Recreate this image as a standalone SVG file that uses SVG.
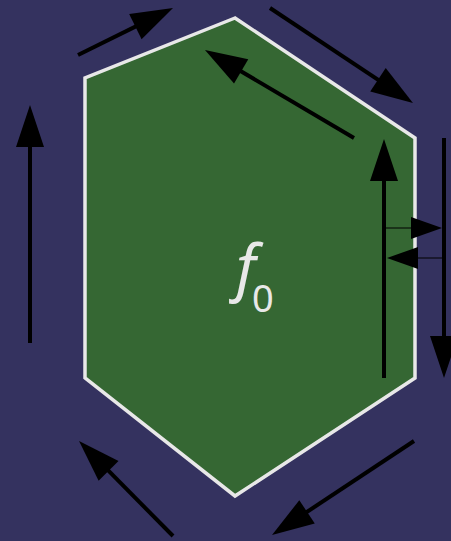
<svg xmlns="http://www.w3.org/2000/svg" width="451" height="541" viewBox="0 0 451 541">
  <style>
    .thick { stroke: #000; stroke-width: 4; fill: none; marker-end: url(#big); }
    .thin { stroke: #000; stroke-width: 1.2; fill: none; marker-end: url(#small); }
    .lbl { font-family: "Noto Sans", "DejaVu Sans", sans-serif; fill: #e8e8e8; }
  </style>
  <defs>
    <marker id="big" markerUnits="userSpaceOnUse" markerWidth="44" markerHeight="30" refX="22" refY="14" orient="auto" overflow="visible">
      <path d="M0,0 L42,14 L0,28 Z" fill="#000"/>
    </marker>
    <marker id="small" markerUnits="userSpaceOnUse" markerWidth="32" markerHeight="24" refX="14" refY="11" orient="auto" overflow="visible">
      <path d="M0,0 L31,11 L0,22 Z" fill="#000"/>
    </marker>
  </defs>
  <rect width="451" height="541" fill="#34325f"/>
  <g id="face">
    <polygon points="235,18 85,78 85,378 235,496 415,378 415,138" fill="#356733" stroke="#e8e8e8" stroke-width="3.5"/>
    <text class="lbl" x="236" y="289" font-size="62" style="font-style:italic">f</text>
    <text class="lbl" x="252" y="312" font-size="38" style="font-style:normal">0</text>
  </g>
  <g id="connectors">
    <line class="thick" x1="78" y1="55" x2="155.1" y2="16.9"/>
    <line class="thick" x1="354" y1="138" x2="222.2" y2="60.2"/>
    <line class="thick" x1="270" y1="8" x2="396.3" y2="91.9"/>
    <line class="thick" x1="384" y1="378" x2="384" y2="159"/>
    <line class="thick" x1="444" y1="138" x2="444" y2="358"/>
    <line class="thin" x1="384" y1="228" x2="425" y2="228"/>
    <line class="thin" x1="442" y1="258" x2="404" y2="258"/>
    <line class="thick" x1="30" y1="343" x2="30" y2="125"/>
    <line class="thick" x1="173" y1="536" x2="93.1" y2="455.2"/>
    <line class="thick" x1="414" y1="441" x2="288.7" y2="524"/>
  </g>
</svg>
